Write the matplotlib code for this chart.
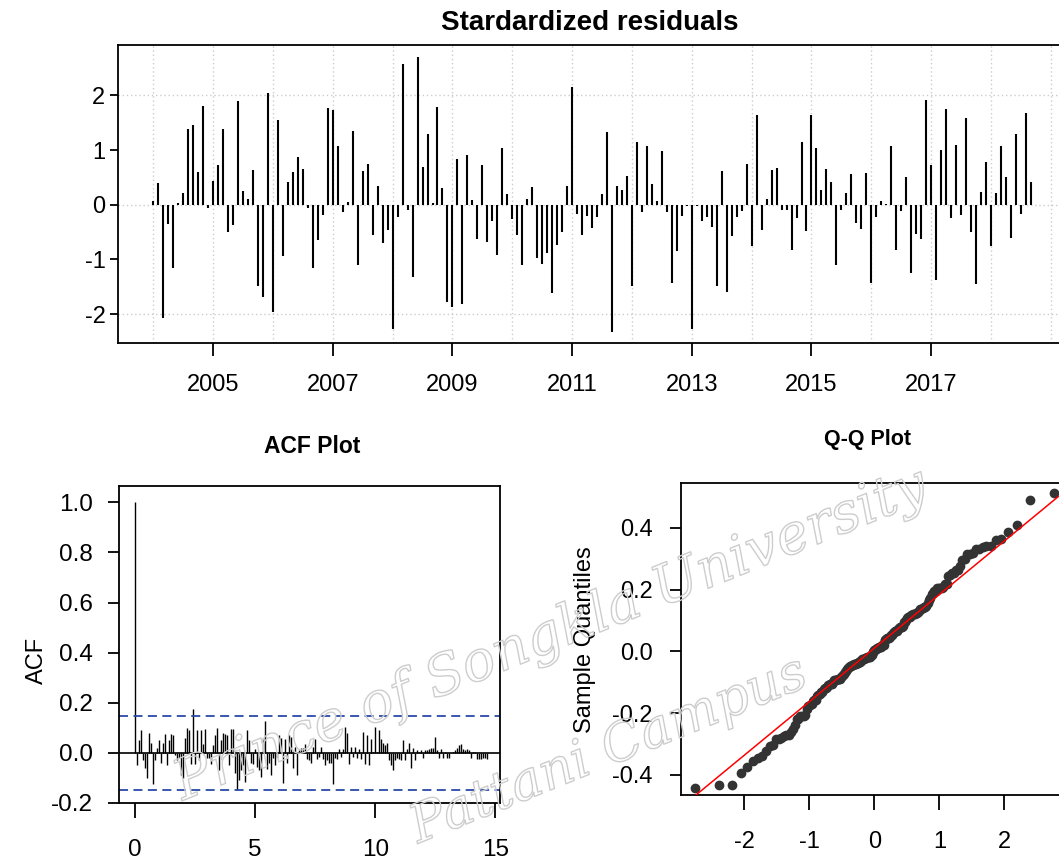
import numpy as np
import matplotlib
matplotlib.use("Agg")
import matplotlib.pyplot as plt
import matplotlib.patheffects as pe
from statistics import NormalDist

plt.rcParams['font.family'] = ['Liberation Sans', 'DejaVu Sans']
plt.rcParams['axes.unicode_minus'] = False

# Data
start_year = 2004  # monthly series, first month Jan 2004
std_resid = [
    0.06, 0.39, -2.08, -0.36, -1.16, 0.04, 0.22, 1.39, 1.46, 0.59, 1.80, -0.06,
    0.43, 0.72, 1.38, -0.49, -0.38, 1.89, 0.25, 0.11, 0.64, -1.48, -1.69, 2.04,
    -1.97, 1.55, -0.94, 0.41, 0.59, 0.87, 0.66, -0.06, -1.16, -0.64, -0.19, 1.77,
    1.74, 1.08, -0.13, 0.05, 1.34, -1.11, 0.61, 0.75, -0.56, 0.35, -0.70, -0.47,
    -2.28, -0.22, 2.58, -0.10, -1.32, 2.70, 0.69, 1.29, 0.03, 1.79, 0.31, -1.78,
    -1.87, 0.83, -1.81, 0.91, 0.08, -0.63, 0.72, -0.69, -0.29, -0.92, 1.03, 0.19,
    -0.27, -0.56, -1.11, 0.11, 0.33, -0.98, -1.08, -0.89, -1.61, -0.73, -0.49, 0.34,
    2.16, -0.17, -0.55, -0.20, -0.42, -0.22, 0.20, 1.33, -2.33, 0.34, 0.27, 0.53,
    -1.49, 1.15, -0.13, 1.07, 0.38, 0.07, 0.98, -0.13, -1.43, -0.85, -0.20, -0.02,
    -2.27, -0.02, -0.30, -0.23, -0.40, -1.49, 0.61, -1.60, -0.57, -0.23, -0.12, 0.75,
    -0.75, 1.65, -0.47, 0.10, 0.64, 0.67, -0.10, -0.10, -0.83, -0.25, 1.15, -0.48,
    1.65, 1.03, 0.27, 0.65, 0.42, -1.10, -0.10, 0.22, 0.56, -0.33, -0.44, 0.58,
    -1.43, -0.22, 0.07, 0.02, 1.08, -0.83, -0.11, 0.50, -1.25, -0.53, -0.62, 1.92,
    0.73, -1.38, 1.00, 1.75, -0.25, 1.10, -0.18, 1.58, -0.49, -1.45, 0.23, 0.78,
    -0.76, 0.21, 1.08, 0.50, -0.60, 1.30, -0.17, 1.68, 0.42,
]
sigma = 0.19  # scale of the raw residuals (Q-Q panel)

acf_vals = [
    1.0,
    -0.05, 0.05, 0.09, -0.03, -0.06, -0.10, 0.08, 0.04, -0.125, -0.03, 0.02, 0.05,
    -0.04, 0.04, 0.075, -0.05, 0.05, 0.075, 0.07, -0.01, -0.03, -0.02, -0.09, -0.10,
    0.06, 0.10, 0.09, -0.045, 0.176, -0.045, 0.09, -0.03, 0.09, 0.035, 0.095, -0.02,
    -0.02, -0.045, 0.03, 0.07, 0.10, -0.07, 0.05, 0.08, 0.075, 0.07, -0.05, 0.095,
    0.095, -0.08, -0.15, -0.11, -0.07, -0.05, -0.115, 0.09, 0.05, -0.04, -0.045, 0.015,
    -0.055, -0.07, -0.095, 0.06, 0.128, -0.065, -0.04, -0.09, -0.02, -0.05, -0.015, 0.07,
    0.06, -0.12, 0.055, -0.04, 0.07, 0.065, -0.06, 0.025, -0.09, 0.01, 0.02, 0.02,
    0.035, -0.025, -0.03, -0.04, 0.025, 0.055, -0.025, -0.015, 0.025, -0.025, -0.05, -0.03,
    -0.04, -0.04, -0.125, -0.02, -0.025, 0.015, -0.015, 0.015, 0.105, 0.08, -0.045, 0.025,
    -0.015, 0.025, -0.02, 0.015, -0.025, 0.085, -0.045, 0.07, -0.05, 0.055, 0.005, 0.105,
    0.005, 0.09, 0.055, 0.04, 0.03, 0.04, -0.03, -0.05, -0.07, -0.03, -0.02, -0.025,
    -0.03, 0.05, -0.03, 0.015, 0.04, -0.06, 0.02, -0.03, 0.01, 0.005, 0.01, -0.02,
    0.01, 0.01, 0.015, 0.02, 0.02, 0.065, 0.01, -0.02, 0.015, -0.02, 0.005, -0.02,
    -0.02, 0.0, 0.005, 0.01, 0.02, 0.03, 0.035, 0.015, 0.01, 0.015, 0.01, -0.02,
    0.005, 0.005, -0.025, -0.025, -0.025, -0.02, -0.02, -0.025,
]

year_ticks = [2005, 2007, 2009, 2011, 2013, 2015, 2017]
grid_years = list(range(2004, 2020))
resid_yticks = [-2, -1, 0, 1, 2]
acf_xticks = [0, 5, 10, 15]
acf_yticks = [-0.2, 0.0, 0.2, 0.4, 0.6, 0.8, 1.0]
qq_xticks = [-2, -1, 0, 1, 2]
qq_yticks = [-0.4, -0.2, 0.0, 0.2, 0.4]

fig = plt.figure(figsize=(10.59, 8.61), dpi=100)

# Standardized residuals
ax1 = fig.add_axes([0.1114, 0.6016, 0.895, 0.346])
t = start_year + np.arange(len(std_resid)) / 12
for yr in grid_years:
    ax1.axvline(yr, color='#cccccc', ls=(0, (1, 2)), lw=1, zorder=0)
for y in [-2, 0, 2]:
    ax1.axhline(y, color='#cccccc', ls=(0, (1, 2)), lw=1, zorder=0)
ax1.vlines(t, 0, std_resid, color='black', lw=1.5)
ax1.set_xlim(2003.41, 2019.25)
ax1.set_ylim(-2.53, 2.92)
ax1.set_xticks(year_ticks)
ax1.set_yticks(resid_yticks)
ax1.tick_params(axis='x', length=9, width=1.3, pad=13, labelsize=17)
ax1.tick_params(axis='y', length=6, width=1.3, pad=3, labelsize=17)
fig.text(0.557, 0.973, 'Stardardized residuals', ha='center', va='center',
         fontsize=20, fontweight='bold')

# ACF
ax2 = fig.add_axes([0.1124, 0.0674, 0.360, 0.368])
lags = np.arange(len(acf_vals)) / 12
ci = 1.96 / np.sqrt(len(std_resid))
ax2.vlines(lags, 0, acf_vals, color='black', lw=1.0)
ax2.axhline(0, color='black', lw=1.2)
ax2.axhline(ci, color='#2b4aa8', ls=(0, (5, 3)), lw=1.3)
ax2.axhline(-ci, color='#2b4aa8', ls=(0, (5, 3)), lw=1.3)
ax2.set_xlim(-0.65, 15.2)
ax2.set_ylim(-0.2, 1.065)
ax2.set_xticks(acf_xticks)
ax2.set_yticks(acf_yticks)
ax2.set_yticklabels([f'{v:.1f}' for v in acf_yticks])
ax2.tick_params(axis='x', length=11, width=1.3, pad=15, labelsize=17.5)
ax2.tick_params(axis='y', length=8, width=1.3, pad=11, labelsize=17.5)
fig.text(0.2946, 0.481, 'ACF Plot', ha='center', va='center',
         fontsize=16.5, fontweight='bold')
fig.text(0.035, 0.233, 'ACF', rotation=90, ha='center', va='center', fontsize=17)

# Q-Q plot
ax3 = fig.add_axes([0.6428, 0.0767, 0.3657, 0.3624])
sample = np.sort(np.array(std_resid) * sigma)
n = len(sample)
nd = NormalDist()
theo = np.array([nd.inv_cdf((i + 0.5) / n) for i in range(n)])
q1, q3 = np.percentile(sample, [25, 75])
slope = (q3 - q1) / (nd.inv_cdf(0.75) - nd.inv_cdf(0.25))
intercept = q1 - slope * nd.inv_cdf(0.25)
xx = np.array([-4, 4])
ax3.plot(xx, intercept + slope * xx, color='red', lw=1.1, zorder=3)
ax3.plot(theo, sample, 'o', color='#333333', ms=6, zorder=2)
ax3.set_xlim(-2.98, 2.98)
ax3.set_ylim(-0.465, 0.545)
ax3.set_xticks(qq_xticks)
ax3.set_yticks(qq_yticks)
ax3.set_yticklabels([f'{v:.1f}' for v in qq_yticks])
ax3.tick_params(axis='x', length=11, width=1.3, pad=15, labelsize=17)
ax3.tick_params(axis='y', length=8, width=1.3, pad=12, labelsize=17)
fig.text(0.8196, 0.489, 'Q-Q Plot', ha='center', va='center',
         fontsize=15.5, fontweight='bold')
fig.text(0.5524, 0.2567, 'Sample Quantiles', rotation=90, ha='center', va='center',
         fontsize=17)

for ax in (ax1, ax2, ax3):
    for s in ax.spines.values():
        s.set_linewidth(1.3)

# scanned watermark
wm = dict(family='DejaVu Serif', style='italic', color='none', ha='center', va='center',
          rotation=22, zorder=10,
          path_effects=[pe.Stroke(linewidth=1.0, foreground='#cdcdcd')])
fig.text(0.52, 0.262, 'Prince of Songkla University', fontsize=40, **wm)
fig.text(0.575, 0.128, 'Pattani Campus', fontsize=38, **wm)

fig.savefig('out.png', dpi=100)
